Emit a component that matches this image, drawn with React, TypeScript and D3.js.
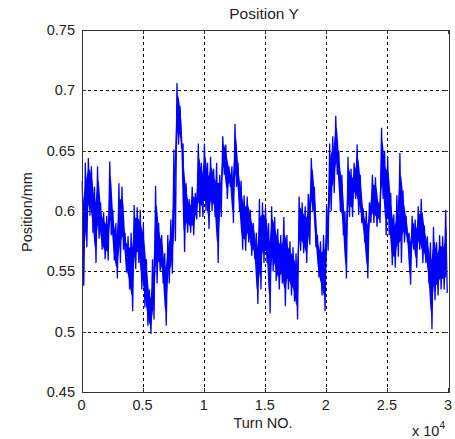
import React, { useEffect, useRef } from "react";
import * as d3 from "d3";

// envelope of the trace, one pair per 250-turn bin
const hiVals = [
  0.625, 0.64, 0.644, 0.637, 0.62, 0.637, 0.607, 0.599, 0.596, 0.641,
  0.601, 0.59, 0.623, 0.62, 0.582, 0.579, 0.582, 0.605, 0.603, 0.601,
  0.59, 0.56, 0.535, 0.56, 0.621, 0.59, 0.58, 0.565, 0.58, 0.593,
  0.651, 0.706, 0.687, 0.656, 0.623, 0.61, 0.62, 0.615, 0.656, 0.64,
  0.656, 0.64, 0.645, 0.635, 0.64, 0.63, 0.662, 0.655, 0.637, 0.637,
  0.672, 0.64, 0.625, 0.613, 0.612, 0.601, 0.59, 0.582, 0.61, 0.607,
  0.603, 0.59, 0.604, 0.595, 0.585, 0.58, 0.595, 0.58, 0.575, 0.57,
  0.565, 0.612, 0.607, 0.604, 0.614, 0.644, 0.62, 0.58, 0.575, 0.58,
  0.604, 0.656, 0.662, 0.679, 0.65, 0.63, 0.6, 0.645, 0.635, 0.64,
  0.655, 0.63, 0.602, 0.6, 0.607, 0.63, 0.628, 0.607, 0.669, 0.65,
  0.645, 0.615, 0.597, 0.613, 0.648, 0.617, 0.596, 0.582, 0.596, 0.593,
  0.604, 0.61, 0.588, 0.579, 0.574, 0.587, 0.574, 0.58, 0.579, 0.601,
];
const loVals = [
  0.538, 0.57, 0.596, 0.582, 0.557, 0.577, 0.568, 0.56, 0.559, 0.58,
  0.559, 0.544, 0.557, 0.568, 0.549, 0.535, 0.517, 0.552, 0.557, 0.535,
  0.52, 0.505, 0.498, 0.51, 0.54, 0.55, 0.54, 0.505, 0.54, 0.548,
  0.575, 0.655, 0.652, 0.566, 0.582, 0.582, 0.58, 0.593, 0.595, 0.595,
  0.6, 0.585, 0.6, 0.595, 0.557, 0.595, 0.63, 0.61, 0.62, 0.59,
  0.62, 0.6, 0.568, 0.567, 0.574, 0.563, 0.56, 0.523, 0.535, 0.557,
  0.557, 0.515, 0.55, 0.542, 0.535, 0.54, 0.521, 0.535, 0.53, 0.525,
  0.51, 0.567, 0.565, 0.557, 0.572, 0.6, 0.57, 0.545, 0.53, 0.517,
  0.567, 0.6, 0.615, 0.63, 0.6, 0.58, 0.544, 0.595, 0.595, 0.61,
  0.597, 0.59, 0.574, 0.544, 0.59, 0.59, 0.587, 0.59, 0.61, 0.58,
  0.58, 0.555, 0.553, 0.562, 0.557, 0.574, 0.574, 0.539, 0.568, 0.553,
  0.568, 0.557, 0.557, 0.54, 0.502, 0.526, 0.53, 0.535, 0.535, 0.532,
];
const binSize = 250;

const xTicks = [0, 5000, 10000, 15000, 20000, 25000, 30000];
const xTickLabels = ["0", "0.5", "1", "1.5", "2", "2.5", "3"];
const yTicks = [0.45, 0.5, 0.55, 0.6, 0.65, 0.7, 0.75];
const yTickLabels = ["0.45", "0.5", "0.55", "0.6", "0.65", "0.7", "0.75"];

const W = 455;
const H = 439;
const font = "Arial, 'Liberation Sans', sans-serif";

export default function App() {
  const svgRef = useRef<SVGSVGElement | null>(null);

  useEffect(() => {
    const svg = d3.select(svgRef.current);
    svg.selectAll("*").remove();

    const left = 81.5, right = 448, top = 30, bottom = 392;
    const x = d3.scaleLinear().domain([0, 30000]).range([left, right]);
    const y = d3.scaleLinear().domain([0.45, 0.75]).range([bottom, top]);

    svg.append("rect").attr("width", W).attr("height", H).attr("fill", "#fff");

    // grid
    const grid = svg.append("g").attr("stroke", "#000").attr("stroke-width", 1)
      .attr("stroke-dasharray", "3,3").attr("shape-rendering", "crispEdges");
    xTicks.slice(1, -1).forEach(t => {
      grid.append("line").attr("x1", Math.round(x(t)) + 0.5).attr("x2", Math.round(x(t)) + 0.5)
        .attr("y1", top).attr("y2", bottom);
    });
    yTicks.slice(1, -1).forEach(t => {
      grid.append("line").attr("y1", Math.round(y(t)) + 0.5).attr("y2", Math.round(y(t)) + 0.5)
        .attr("x1", left).attr("x2", right);
    });

    // data: solid core of the band plus zigzag between the envelope values
    const band = hiVals.map((h, i) => ({ t: i * binSize + binSize / 2, h, l: loVals[i] }));
    const core = d3.area<{ t: number; h: number; l: number }>()
      .x(d => x(d.t))
      .y0(d => y(d.l + (d.h - d.l) * 0.2))
      .y1(d => y(d.h - (d.h - d.l) * 0.2))
      .curve(d3.curveMonotoneX);
    svg.append("path").attr("d", core(band)).attr("fill", "#0000ff");

    const pts: [number, number][] = [];
    hiVals.forEach((h, i) => {
      const x0 = i * binSize;
      pts.push([x(x0 + binSize * 0.25), y(h)]);
      pts.push([x(x0 + binSize * 0.75), y(loVals[i])]);
    });
    svg.append("path")
      .attr("d", d3.line()(pts))
      .attr("fill", "none")
      .attr("stroke", "#0000ff")
      .attr("stroke-width", 1.3)
      .attr("stroke-linejoin", "miter");

    // box
    svg.append("rect")
      .attr("x", Math.round(left) + 0.5).attr("y", top + 0.5)
      .attr("width", Math.round(right - left)).attr("height", bottom - top)
      .attr("fill", "none").attr("stroke", "#333").attr("stroke-width", 1);

    // ticks, inward
    const tk = svg.append("g").attr("stroke", "#333").attr("shape-rendering", "crispEdges");
    xTicks.forEach(t => {
      const xx = Math.round(x(t)) + 0.5;
      tk.append("line").attr("x1", xx).attr("x2", xx).attr("y1", bottom).attr("y2", bottom - 4);
      tk.append("line").attr("x1", xx).attr("x2", xx).attr("y1", top).attr("y2", top + 4);
    });
    yTicks.forEach(t => {
      const yy = Math.round(y(t)) + 0.5;
      tk.append("line").attr("y1", yy).attr("y2", yy).attr("x1", left).attr("x2", left + 4);
      tk.append("line").attr("y1", yy).attr("y2", yy).attr("x1", right).attr("x2", right - 4);
    });

    // tick labels
    const txt = svg.append("g").attr("font-family", font).attr("fill", "#222");
    xTicks.forEach((t, i) => {
      txt.append("text").attr("x", x(t)).attr("y", 410).attr("text-anchor", "middle")
        .attr("font-size", 14.5).text(xTickLabels[i]);
    });
    yTicks.forEach((t, i) => {
      txt.append("text").attr("x", 75).attr("y", y(t) + 5).attr("text-anchor", "end")
        .attr("font-size", 14.5).text(yTickLabels[i]);
    });

    // exponent
    const ex = txt.append("text").attr("x", 412).attr("y", 436).attr("font-size", 14.5);
    ex.append("tspan").text("x 10");
    ex.append("tspan").attr("dy", -7).attr("font-size", 10).text("4");

    // axis titles
    txt.append("text").attr("x", 263).attr("y", 428).attr("text-anchor", "middle")
      .attr("font-size", 14.5).text("Turn NO.");
    txt.append("text").attr("transform", "translate(32,212) rotate(-90)")
      .attr("text-anchor", "middle").attr("font-size", 14.5).text("Position/mm");
    txt.append("text").attr("x", 264).attr("y", 19).attr("text-anchor", "middle")
      .attr("font-size", 15.5).text("Position Y");
  }, []);

  return (
    <svg ref={svgRef} width={W} height={H}
      style={{ position: "absolute", left: 0, top: 0, display: "block" }} />
  );
}
